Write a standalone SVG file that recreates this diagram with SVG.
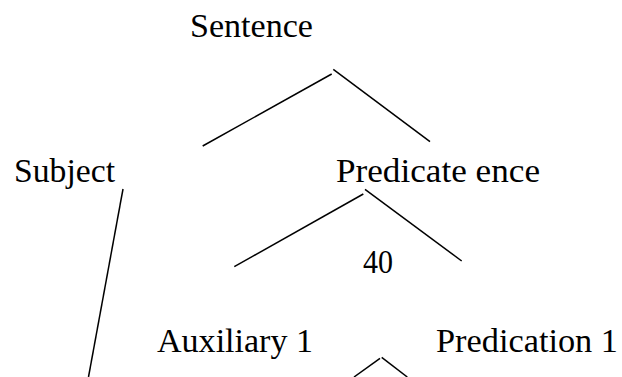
<svg xmlns="http://www.w3.org/2000/svg" width="622" height="377" viewBox="0 0 622 377">
<style>
text{font-family:"Liberation Serif","Times New Roman",serif;font-size:33.5px;fill:#000}
.c line{stroke:#000;stroke-width:1.5;fill:none}
</style>
<rect width="622" height="377" fill="#fff"/>
<g id="sentence"><text x="190" y="37" textLength="123" lengthAdjust="spacingAndGlyphs">Sentence</text></g>
<g id="subject"><text x="14" y="182" textLength="101" lengthAdjust="spacingAndGlyphs">Subject</text></g>
<g id="predicate"><text x="336" y="182" textLength="204" lengthAdjust="spacingAndGlyphs">Predicate ence</text></g>
<g id="n40"><text x="363" y="273" textLength="30" lengthAdjust="spacingAndGlyphs">40</text></g>
<g id="auxiliary"><text x="157" y="352" textLength="156" lengthAdjust="spacingAndGlyphs">Auxiliary 1</text></g>
<g id="predication"><text x="436" y="352" textLength="182" lengthAdjust="spacingAndGlyphs">Predication 1</text></g>
<g id="connectors" class="c">
<line x1="331.7" y1="74" x2="202.7" y2="146"/>
<line x1="333.3" y1="69.3" x2="430" y2="141.7"/>
<line x1="123" y1="189" x2="88.5" y2="377"/>
<line x1="363.3" y1="194" x2="234.3" y2="266.7"/>
<line x1="365" y1="189.3" x2="461.7" y2="261"/>
<line x1="380" y1="358.3" x2="354" y2="377"/>
<line x1="381.7" y1="357.3" x2="407.3" y2="377"/>
</g>
</svg>
